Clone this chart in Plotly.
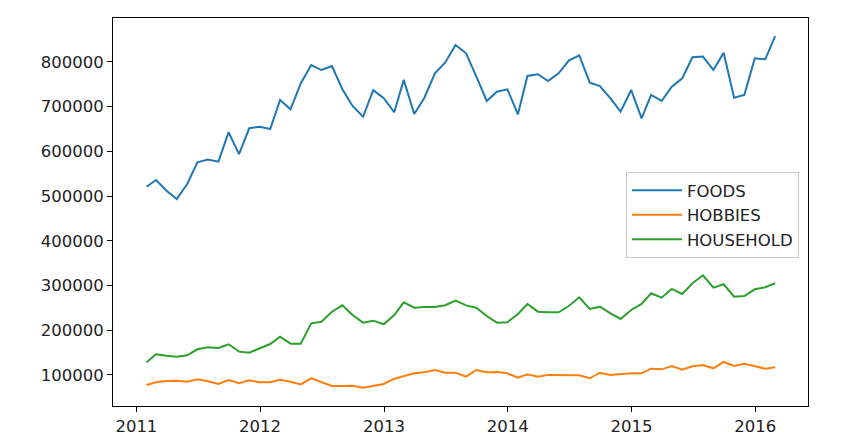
import pandas as pd
import plotly.graph_objs as go

# Monthly totals, Jan 2011 - Feb 2016 (month ends)
months = pd.date_range('2011-01-31', periods=62, freq='ME')

foods = [521000, 536000, 512000, 493500, 527000, 575600, 582000, 577000, 642700, 594000,
         651700, 655000, 650000, 715000, 694000, 752000, 793000, 782000, 791000, 739000,
         701600, 677600, 737000, 719000, 687500, 760000, 683700, 720000, 774700, 798500,
         838000, 819500, 767600, 712800, 733600, 738900, 683000, 768700, 772500, 757500,
         774700, 803000, 815000, 753700, 746300, 718800, 688800, 737400, 674000, 726200,
         712800, 744800, 763500, 810500, 812000, 782000, 820800, 720100, 726200, 808200,
         806000, 858000]

hobbies = [77400, 83400, 86400, 87000, 84800, 90100, 85600, 79600, 88600, 81200,
           87900, 83400, 83400, 89300, 84800, 78800, 92400, 84100, 75200, 75200,
           75800, 71400, 75200, 79600, 91500, 97500, 103500, 105800, 110900, 104900,
           104900, 96000, 110900, 105800, 106500, 103500, 93700, 101300, 96000, 100000,
           99700, 99700, 99000, 92400, 104900, 99700, 102000, 103500, 103500, 113900,
           112400, 119900, 111700, 119100, 122100, 114700, 128900, 119900, 124900, 118900,
           113900, 116900]

household = [128200, 146100, 143000, 140800, 143900, 157300, 161800, 160300, 168500, 152000,
             149800, 158600, 169100, 185500, 169800, 169800, 215400, 219000, 241400, 255700,
             234000, 216800, 221300, 213200, 234000, 262400, 250400, 251900, 251900, 255700,
             266000, 255500, 250400, 231800, 216800, 217700, 236400, 258600, 241400, 240000,
             240000, 254100, 273600, 247400, 252600, 237800, 225100, 245200, 258600, 282600,
             272700, 292200, 281000, 304900, 322800, 295100, 302700, 275000, 276500, 291500,
             296000, 304900]

series = [('FOODS', foods, '#1f77b4'),
          ('HOBBIES', hobbies, '#ff7f0e'),
          ('HOUSEHOLD', household, '#2ca02c')]

year_ticks = pd.to_datetime(['2011-01-01', '2012-01-01', '2013-01-01',
                             '2014-01-01', '2015-01-01', '2016-01-01'])
year_labels = ['2011', '2012', '2013', '2014', '2015', '2016']

fig = go.Figure()
for name, vals, color in series:
    fig.add_trace(go.Scatter(x=months, y=vals, mode='lines', name=name,
                             line=dict(color=color, width=2)))

axis_style = dict(showline=True, linecolor='black', linewidth=1, mirror=True,
                  ticks='outside', ticklen=5, tickcolor='black', showgrid=False,
                  zeroline=False, tickfont=dict(family='DejaVu Sans', size=16.5, color='#222'))

# page body adds an 8px offset, so the figure is a bit smaller than the window
fig.update_layout(
    width=846, height=440,
    margin=dict(l=105, r=46, t=10, b=42),
    plot_bgcolor='white', paper_bgcolor='white',
    xaxis=dict(range=['2010-10-24', '2016-06-05'], tickvals=year_ticks,
               ticktext=year_labels, **axis_style),
    yaxis=dict(range=[30400, 898400], tickvals=[100000 * i for i in range(1, 9)],
               ticktext=[str(100000 * i) for i in range(1, 9)], **axis_style),
    legend=dict(x=0.987, y=0.603, xanchor='right', yanchor='top',
                bgcolor='rgba(255,255,255,0.8)', bordercolor='#cccccc', borderwidth=1,
                font=dict(family='DejaVu Sans', size=16.5, color='#222'),
                itemwidth=50, tracegroupgap=0),
    showlegend=True,
)

fig.write_html("out.html")
